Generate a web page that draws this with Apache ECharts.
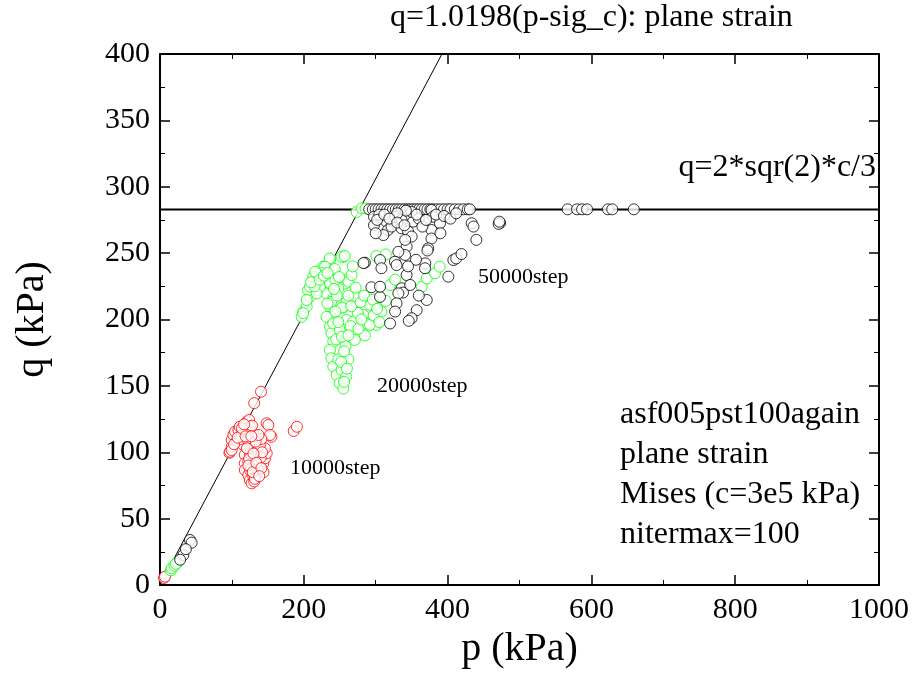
<!DOCTYPE html>
<html>
<head>
<meta charset="utf-8">
<script src="https://cdn.jsdelivr.net/npm/echarts@6/dist/echarts.min.js"></script>
<style>
  html, body { margin: 0; padding: 0; background: #fff; }
  #chart { width: 919px; height: 679px; }
</style>
</head>
<body>
<div id="chart"></div>
<script>
// [p, q] pairs
const step10000 = [
  [5.5, 5.3], [7, 6.3], [96.5, 99.6], [97.4, 100.4], [99.7, 104.2], [99.7, 109.2], [102, 113],
  [104.3, 115.5], [109, 116.8], [111, 119.2], [120.6, 123], [124, 124.3], [113.4, 113],
  [106.4, 108], [99.7, 101.7], [115.8, 105.5], [118, 98], [118, 91.7], [118, 86.6],
  [122.8, 82.9], [125, 79], [127.5, 76.6], [129.8, 81.6], [125, 86.6], [122.8, 93],
  [125, 99.2], [127.5, 106.7], [129.8, 114.3], [125, 119.3], [132, 104.2], [134.4, 96.7],
  [136.7, 93], [136.7, 101.7], [139, 89], [134.4, 84], [143.7, 91.7], [146, 95.4],
  [148.4, 99.2], [146, 103], [139, 105.5], [148.4, 121.8], [150.7, 120.5], [155, 111.7],
  [153, 113], [186, 116], [190.4, 119.2], [131, 137], [140.5, 145.6], [112, 110],
  [120, 116], [128, 120], [130, 90], [141, 110], [144, 85], [131, 78], [121, 110],
  [103, 106], [108, 111], [114, 118], [117, 121], [121, 103], [124, 95], [127, 88],
  [132, 80], [136, 87], [140, 96], [142, 100], [133, 108], [137, 113], [119, 112],
  [127, 112], [130, 99], [123, 90], [129, 85], [134, 92], [141, 88], [138, 82]
];

const step20000 = [
  [15, 11], [16.2, 12.6], [20, 14.5], [25.5, 17.6], [22, 16],
  [199.3, 205.9], [197, 202], [204, 209.7], [208.6, 217.2], [206, 222], [213, 229.7],
  [218, 232.2], [220, 222], [227, 239.8], [236.4, 244.8], [255, 247.3], [231.6, 228.5],
  [237, 226], [231.6, 219.7], [241, 216], [236.4, 209.7], [238.5, 202], [236.4, 194.6],
  [238.5, 189.6], [241, 183.3], [236.4, 177], [238.5, 170.8], [241, 164.5], [245.6, 158.2],
  [250, 152], [255, 148], [252.5, 162], [259, 157], [250, 212], [255, 209], [257, 227],
  [260, 230], [236, 246], [252.5, 247.3], [257, 247.8], [229.5, 239.8], [213, 232.2],
  [208.6, 224.7], [222.5, 224.7], [236.4, 227.3], [248, 223.5], [262, 228.5], [266.5, 233.5],
  [271, 217.2], [259.6, 213.4], [253, 209], [238.5, 213.4], [233, 212], [218, 219.7],
  [204, 214.7], [199.3, 204.7], [231.6, 202], [241, 197], [259.6, 199.6], [268.7, 198.3],
  [282.6, 203.4], [292, 211], [287.5, 197], [301, 195.9], [265, 195], [308, 205.9],
  [320, 226], [327, 230], [250, 192], [271, 184.6], [285, 188], [292, 196], [301, 247.8],
  [314, 249], [364, 224.7], [371, 231], [382.5, 234.8], [389, 239.8], [273.5, 281],
  [280.5, 283.7], [286, 283.7], [245, 185], [258, 180], [262, 170], [248, 170], [275, 205],
  [225, 235], [215, 225], [210, 228], [216, 236], [222, 230], [228, 233], [244, 230],
  [246, 218], [244, 206], [248, 198], [253, 187], [256, 176], [252, 168], [260, 163],
  [256, 153], [262, 218], [266, 210], [272, 224], [279, 213], [284, 218], [297, 203],
  [276, 193], [262, 188], [296, 215], [302, 208], [314, 214], [305, 198], [280, 200],
  [243, 238], [249, 232], [268, 240], [233, 235], [242, 223]
];

const step50000 = [
  [32.5, 22.6], [41.7, 33.9], [44, 31.9], [28, 19], [36, 27],
  [291, 283], [296, 283], [300, 283], [304, 283], [308, 283], [312, 283], [316, 283],
  [320, 283], [324, 283], [328, 283], [332, 283], [336, 283], [340, 283], [344, 283],
  [348, 283], [352, 283], [356, 283], [360, 283], [364, 283], [368, 283], [372, 283],
  [376, 283], [380, 283], [385, 283], [390, 283], [395, 283], [400, 283], [404, 283],
  [410, 283], [416, 283], [422, 283], [428, 283], [431, 283],
  [567, 283], [580, 283], [587, 283], [594, 283], [623, 283], [629, 283], [659, 283],
  [473, 272.7], [471, 272],
  [297.6, 277.4], [297.6, 271], [315, 273.7], [317, 267.4], [310.6, 263.6], [322, 270],
  [326.8, 277.4], [336, 275], [336, 268.7], [345, 266.4], [350, 262.5], [352, 273.7],
  [350, 281], [342, 282], [377.6, 282.5], [380, 277.4], [389.4, 272.5], [377.6, 267.4],
  [377.6, 261], [373, 253.6], [372, 252], [369, 242.3], [368.6, 238.6], [343, 254.9],
  [340.8, 248.6], [331.5, 251], [326.8, 243.5], [329, 241], [306, 244.8], [308, 238.6],
  [285, 242.8], [343, 233.5], [336, 223.5], [338, 220.3], [331.5, 219.7], [329, 212.2],
  [327, 206], [320, 197], [306, 217], [294, 224.3], [306, 224.7], [408, 244.8], [412, 246],
  [419.3, 249.3], [401, 232.3], [371, 214.7], [357, 207], [350, 201], [346, 199],
  [433.5, 272.5], [436, 270], [440, 260], [472, 273.7], [283, 242.5], [348, 226], [360, 218],
  [305, 279], [330, 280], [360, 276], [365, 270], [390, 265], [356, 245], [345, 240],
  [302, 275], [312, 279], [319, 276], [330, 273], [340, 271], [357, 279], [370, 275],
  [384, 279], [395, 278], [404, 276], [412, 280], [300, 265], [341, 260]
];

const mohrLine = [[0, 0], [392.2, 400]];
const misesLine = [[0, 282.8], [1000, 282.8]];

const serif = '"Liberation Serif", "DejaVu Serif", serif';

const chart = echarts.init(document.getElementById('chart'));

function scatter(name, data, color) {
  return {
    name: name,
    type: 'scatter',
    data: data,
    symbol: 'circle',
    symbolSize: 11,
    itemStyle: { color: '#fff', borderColor: color, borderWidth: 1 },
    silent: true,
    z: 3
  };
}

function frameAxis(extra) {
  return Object.assign({
    type: 'value',
    axisLine: { show: true, onZero: false, lineStyle: { color: '#000', width: 2 } },
    axisTick: { show: true, inside: true, length: 10, lineStyle: { color: '#000', width: 1.5 } },
    minorTick: { show: true, splitNumber: 2, length: 5, lineStyle: { color: '#000', width: 1 } },
    splitLine: { show: false },
    minorSplitLine: { show: false }
  }, extra);
}

const tickFont = { fontFamily: serif, fontSize: 30, color: '#000', margin: 10, formatter: v => String(v) };

chart.setOption({
  backgroundColor: '#fff',
  animation: false,
  grid: { left: 160, right: 40, top: 54, bottom: 94 },
  xAxis: [
    frameAxis({
      min: 0, max: 1000, interval: 200, position: 'bottom',
      name: 'p (kPa)', nameLocation: 'middle', nameGap: 40,
      nameTextStyle: { fontFamily: serif, fontSize: 40, color: '#000' },
      axisLabel: tickFont
    }),
    frameAxis({ min: 0, max: 1000, interval: 200, position: 'top', axisLabel: { show: false } })
  ],
  yAxis: [
    frameAxis({
      min: 0, max: 400, interval: 50, position: 'left',
      name: 'q (kPa)', nameLocation: 'middle', nameGap: 108, nameRotate: 90,
      nameTextStyle: { fontFamily: serif, fontSize: 40, color: '#000' },
      axisLabel: tickFont
    }),
    frameAxis({ min: 0, max: 400, interval: 50, position: 'right', axisLabel: { show: false } })
  ],
  series: [
    {
      type: 'line', data: mohrLine, symbol: 'none', silent: true,
      lineStyle: { color: '#000', width: 1 }, z: 2
    },
    {
      type: 'line', data: misesLine, symbol: 'none', silent: true,
      lineStyle: { color: '#000', width: 2 }, z: 2
    },
    scatter('10000step', step10000, '#ff0000'),
    scatter('20000step', step20000, '#00ff00'),
    scatter('50000step', step50000, '#000')
  ],
  graphic: [
    { type: 'text', left: 390, top: 2,
      style: { text: 'q=1.0198(p-sig_c): plane strain', font: '32px ' + serif, fill: '#000' } },
    { type: 'text', right: 43, top: 152,
      style: { text: 'q=2*sqr(2)*c/3', font: '32px ' + serif, fill: '#000' } },
    { type: 'text', left: 478, top: 266,
      style: { text: '50000step', font: '22px ' + serif, fill: '#000' } },
    { type: 'text', left: 377, top: 375,
      style: { text: '20000step', font: '22px ' + serif, fill: '#000' } },
    { type: 'text', left: 290, top: 457,
      style: { text: '10000step', font: '22px ' + serif, fill: '#000' } },
    { type: 'text', left: 620, top: 395,
      style: { text: 'asf005pst100again\nplane strain\nMises (c=3e5 kPa)\nnitermax=100',
               font: '32px ' + serif, lineHeight: 40, fill: '#000' } }
  ]
});
</script>
</body>
</html>
